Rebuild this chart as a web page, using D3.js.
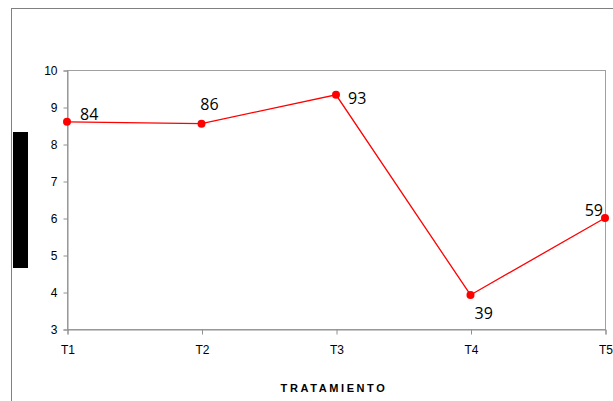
<!DOCTYPE html>
<html>
<head>
<meta charset="utf-8">
<script src="https://cdn.jsdelivr.net/npm/d3@7"></script>
<style>
  body { margin: 0; background: #fff; }
  svg { display: block; }
</style>
</head>
<body>
<svg class="chart" width="613" height="401"></svg>
<script>
// data
var categories = ["T1", "T2", "T3", "T4", "T5"];
var values = [8.6, 8.55, 9.33, 3.92, 6.0];
var labels = ["84", "86", "93", "39", "59"];
var yTicks = [3, 4, 5, 6, 7, 8, 9, 10];

var svg = d3.select(".chart"),
    plotL = 67, plotR = 605, plotT = 70, plotB = 329;

// outer chart frame
svg.append("rect")
    .attr("x", 11.5).attr("y", 8.5)
    .attr("width", 700).attr("height", 500)
    .attr("fill", "none").attr("stroke", "#808080");

// redacted axis title block
svg.append("rect")
    .attr("x", 13).attr("y", 132)
    .attr("width", 15).attr("height", 136)
    .attr("fill", "#000");

var x = d3.scalePoint().domain(categories).range([plotL, plotR]);
var y = d3.scaleLinear().domain([3, 10]).range([plotB, plotT]);

// plot area border
svg.append("rect")
    .attr("x", plotL + 0.5).attr("y", plotT + 0.5)
    .attr("width", plotR - plotL).attr("height", plotB - plotT)
    .attr("fill", "none").attr("stroke", "#a0a0a0");

var yAxis = svg.append("g")
    .attr("transform", "translate(" + (plotL + 0.5) + ",0.5)")
    .call(d3.axisLeft(y).tickValues(yTicks).tickSize(4).tickPadding(6).tickFormat(d3.format("d")));

var xAxis = svg.append("g")
    .attr("transform", "translate(0.5," + (plotB + 0.5) + ")")
    .call(d3.axisBottom(x).tickSize(5).tickPadding(11));

[yAxis, xAxis].forEach(function(a) {
    a.select(".domain").attr("stroke", "#909090");
    a.selectAll(".tick line").attr("stroke", "#909090");
    a.selectAll("text")
        .style("font-family", "Liberation Sans, Arial, sans-serif")
        .style("font-size", "12px")
        .attr("fill", "#000");
});

// line
var line = d3.line()
    .x(function(d, i) { return x(categories[i]); })
    .y(function(d) { return y(d); });

svg.append("path")
    .datum(values)
    .attr("d", line)
    .attr("fill", "none")
    .attr("stroke", "#ff0000")
    .attr("stroke-width", 1.3);

svg.selectAll("circle.pt")
    .data(values)
    .enter().append("circle")
    .attr("class", "pt")
    .attr("cx", function(d, i) { return x(categories[i]); })
    .attr("cy", function(d) { return y(d); })
    .attr("r", 4)
    .attr("fill", "#ff0000");

// data labels offsets around each point
var offs = [[13, -2, "start"], [8, -14, "middle"], [12, 9, "start"], [4, 24, "start"], [-2, -2, "end"]];

svg.selectAll("text.lbl")
    .data(values)
    .enter().append("text")
    .attr("class", "lbl")
    .attr("x", function(d, i) { return x(categories[i]) + offs[i][0]; })
    .attr("y", function(d, i) { return y(d) + offs[i][1]; })
    .attr("text-anchor", function(d, i) { return offs[i][2]; })
    .text(function(d, i) { return labels[i]; })
    .style("font-family", "Open Sans, sans-serif")
    .style("font-size", "16px");

svg.append("text")
    .attr("x", 334)
    .attr("y", 392)
    .attr("text-anchor", "middle")
    .text("TRATAMIENTO")
    .style("font-family", "Liberation Sans, Arial, sans-serif")
    .style("font-size", "11px")
    .style("font-weight", "bold")
    .style("letter-spacing", "2.6px");
</script>
</body>
</html>
